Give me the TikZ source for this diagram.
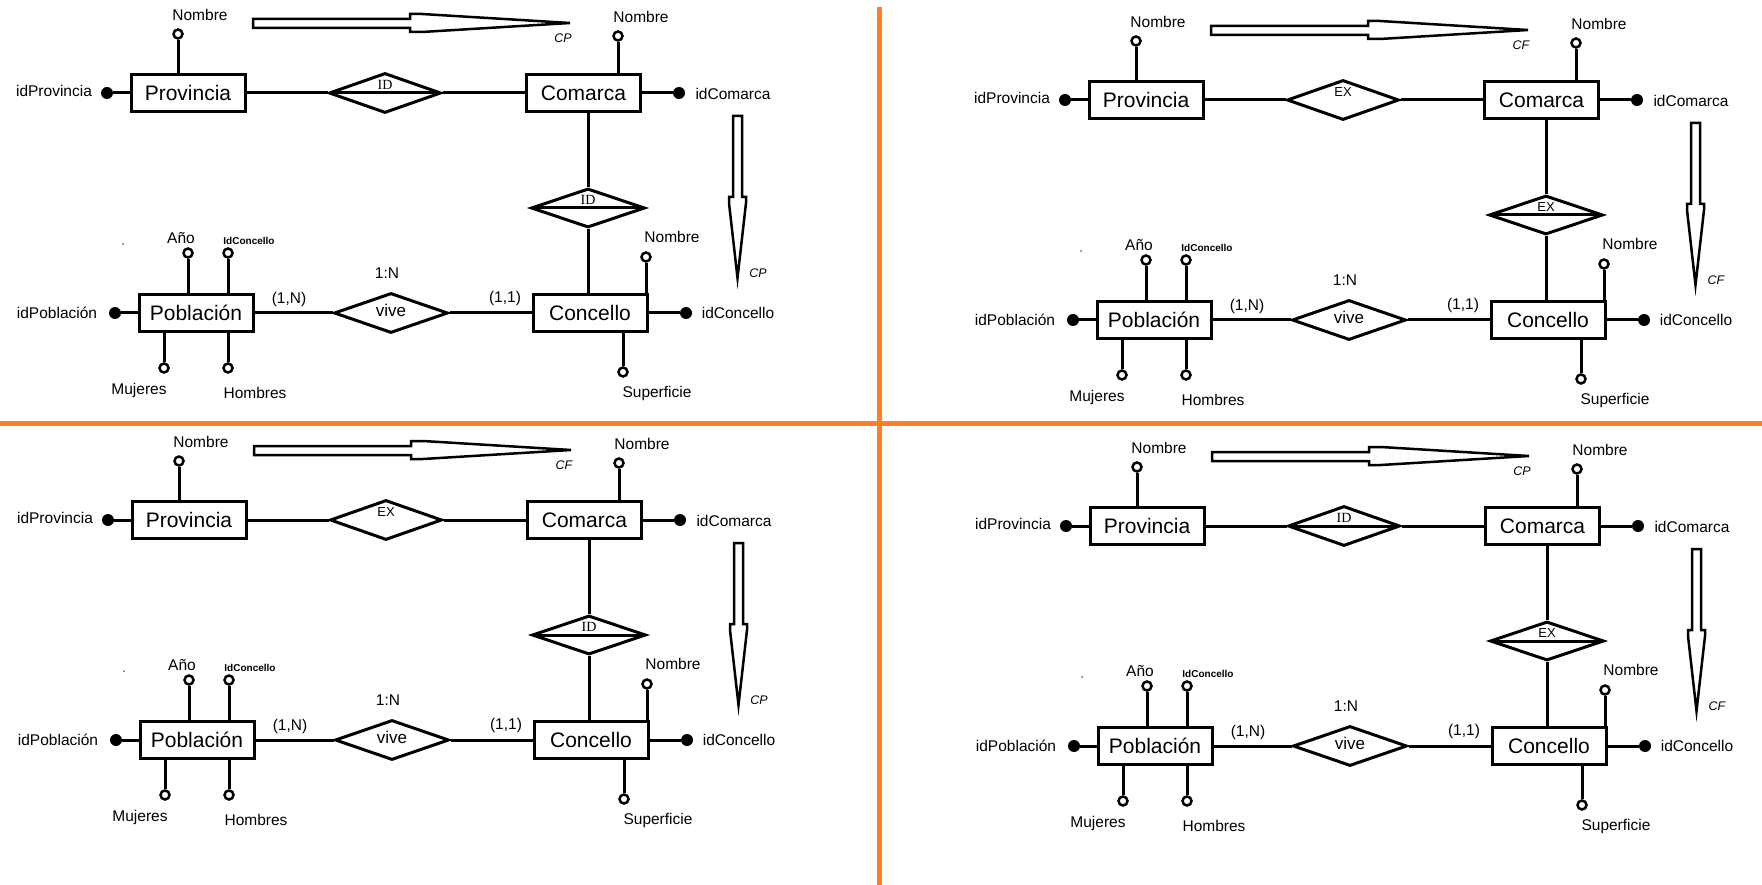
\documentclass[tikz,border=0pt]{standalone}
\usepackage{fontspec}
\setmainfont{Liberation Sans}
\newfontfamily\idfont{Liberation Serif}
\usetikzlibrary{shapes.geometric}
\definecolor{sepcol}{HTML}{FF7F27}
\tikzset{
  ln/.style={line width=3pt},
  entity/.style={draw, line width=3pt, minimum width=114pt, minimum height=37pt, inner sep=0pt, font=\fontsize{21}{24}\selectfont},
  rel/.style={draw, diamond, line width=3pt, minimum width=112pt, minimum height=40pt, inner sep=0pt},
  relmid/.style={rel, path picture={\draw[line width=3pt] (path picture bounding box.west) -- (path picture bounding box.east);}},
  idlab/.style={font=\idfont\fontsize{14}{16}\selectfont, yshift=8pt, inner sep=0pt},
  exlab/.style={font=\fontsize{13}{15}\selectfont, yshift=8pt, inner sep=0pt},
  hrelID/.style={relmid, label={[idlab]center:ID}},
  hrelEX/.style={rel, label={[exlab]center:EX}},
  vrelID/.style={relmid, label={[idlab]center:ID}},
  vrelEX/.style={relmid, label={[exlab]center:EX}},
  oattr/.style={circle, draw, line width=2.5pt, fill=white, minimum size=9pt, inner sep=0pt},
  kattr/.style={circle, fill=black, minimum size=12pt, inner sep=0pt},
  atext/.style={font=\fontsize{15.5}{18}\selectfont, inner sep=0pt},
  smalltext/.style={font=\bfseries\fontsize{10}{12}\selectfont, inner sep=0pt},
  cardtext/.style={font=\fontsize{15.5}{18}\selectfont, inner sep=0pt},
  arrtext/.style={font=\itshape\fontsize{12.5}{14}\selectfont, inner sep=0pt},
  bigarrow/.style={draw, line width=2.5pt, fill=white, line join=miter},
}
\newcommand{\erquad}[7]{%
\begin{scope}[shift={(#1,#2)}]
  % entities
  \node[entity] (#7prov) at (188,93) {Provincia};
  \node[entity] (#7com) at (583.5,93) {Comarca};
  \node[entity] (#7con) at (590,313) {Concello};
  \node[entity] (#7pob) at (196,313) {Población};
  % relationships
  \node[hrel#3] (#7d1) at (385,93) {};
  \node[vrel#4, minimum height=39pt, minimum width=114pt] (#7d2) at (588,208) {};
  \node[rel, minimum width=114pt, label={[font=\fontsize{17}{19}\selectfont, yshift=3pt, inner sep=0pt]center:vive}] (#7vive) at (391,313) {};
  \draw[ln] (#7prov) -- (#7d1) -- (#7com);
  \draw[ln] (#7d2.north) -- (#7d2.north |- #7com.south);
  \draw[ln] (#7d2.south) -- (#7d2.south |- #7con.north);
  \draw[ln] (#7pob) -- (#7vive) -- (#7con);
  % cardinalities
  \node[cardtext] (#7c1) at (387,273) {1:N};
  \node[cardtext] (#7c2) at (289,299) {(1,N)};
  \node[cardtext] (#7c3) at (505,298) {(1,1)};
  % Provincia attributes
  \node[kattr] (#7provid) at (107,93) {};
  \node[atext] (#7providt) at (54,91) {idProvincia};
  \draw[ln] (#7provid) -- (#7prov);
  \node[oattr] (#7provnom) at (178,34) {};
  \node[atext] (#7provnomt) at (200,15) {Nombre};
  \draw[ln] (#7provnom) -- (#7provnom |- #7prov.north);
  % Comarca attributes
  \node[kattr] (#7comid) at (679,93) {};
  \node[atext] (#7comidt) at (733,94) {idComarca};
  \draw[ln] (#7comid) -- (#7com);
  \node[oattr] (#7comnom) at (618,36) {};
  \node[atext] (#7comnomt) at (641,17) {Nombre};
  \draw[ln] (#7comnom) -- (#7comnom |- #7com.north);
  % Concello attributes
  \node[kattr] (#7conid) at (686,313) {};
  \node[atext] (#7conidt) at (738,313) {idConcello};
  \draw[ln] (#7conid) -- (#7con);
  \node[oattr] (#7connom) at (646,257) {};
  \node[atext] (#7connomt) at (672,237) {Nombre};
  \draw[ln] (#7connom) -- (#7connom |- #7con.north);
  \node[oattr] (#7consup) at (623,372) {};
  \node[atext] (#7consupt) at (657,393) {Superficie};
  \draw[ln] (#7consup) -- (#7consup |- #7con.south);
  % Poblacion attributes
  \node[kattr] (#7pobid) at (115,313) {};
  \node[atext] (#7pobidt) at (57,313) {idPoblación};
  \draw[ln] (#7pobid) -- (#7pob);
  \node[oattr] (#7pobano) at (188,253) {};
  \node[atext] (#7pobanot) at (181,238) {Año};
  \draw[ln] (#7pobano) -- (#7pobano |- #7pob.north);
  \node[oattr] (#7pobidc) at (228,253) {};
  \node[smalltext] (#7pobidct) at (249,241) {IdConcello};
  \draw[ln] (#7pobidc) -- (#7pobidc |- #7pob.north);
  \node[oattr] (#7pobmuj) at (164,368) {};
  \node[atext] (#7pobmujt) at (139,390) {Mujeres};
  \draw[ln] (#7pobmuj) -- (#7pobmuj |- #7pob.south);
  \node[oattr] (#7pobhom) at (228,368) {};
  \node[atext] (#7pobhomt) at (255,393) {Hombres};
  \draw[ln] (#7pobhom) -- (#7pobhom |- #7pob.south);
  % stray mark
  \fill[black!60] (123,244) circle (1pt);
  % horizontal hollow arrow
  \draw[bigarrow] (253,19) -- (410,19) -- (410,14) -- (422,14) -- (570,23)
     -- (422,32) -- (410,32) -- (410,28) -- (253,28) -- cycle;
  \node[arrtext] (#7ha) at (563,38) {#5};
  % vertical hollow arrow
  \draw[bigarrow] (733,116) -- (742,116) -- (742,197) -- (746,197) -- (746,203)
     -- (737.5,278) -- (729,203) -- (729,197) -- (733,197) -- cycle;
  \node[arrtext] (#7va) at (758,273) {#6};
\end{scope}}
\begin{document}
\begin{tikzpicture}[x=1pt, y=-1pt]
  \useasboundingbox (0,0) rectangle (1762,885);
  \fill[white] (0,0) rectangle (1762,885);
  \erquad{0}{0}{ID}{ID}{CP}{CP}{a}
  \erquad{958}{7}{EX}{EX}{CF}{CF}{b}
  \erquad{1}{427}{EX}{ID}{CF}{CP}{c}
  \erquad{959}{433}{ID}{EX}{CP}{CF}{d}
  \draw[sepcol, line width=5pt] (0,423.5) -- (1762,423.5);
  \draw[sepcol, line width=5pt] (879.5,7) -- (879.5,885);
\end{tikzpicture}
\end{document}
